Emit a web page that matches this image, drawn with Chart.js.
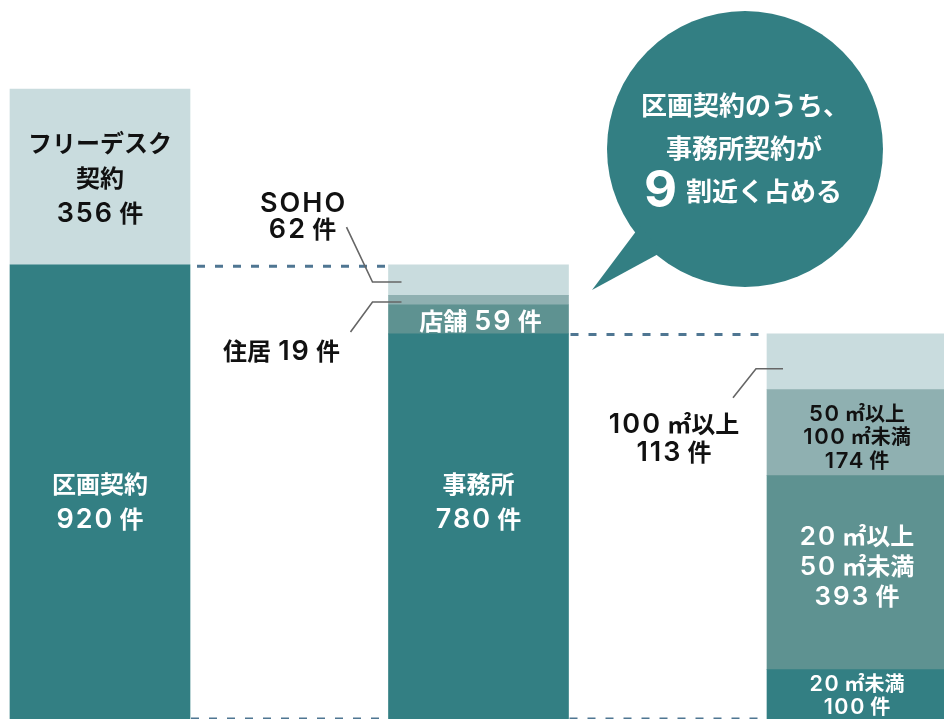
<!DOCTYPE html>
<html>
<head>
<meta charset="utf-8">
<script src="https://cdn.jsdelivr.net/npm/chart.js@4/dist/chart.umd.min.js"></script>
<style>
  html, body { margin: 0; padding: 0; background: #ffffff; overflow: hidden; }
  #wrap { width: 944px; height: 719px; position: relative; }
  canvas { display: block; }
</style>
</head>
<body>
<div id="wrap"><canvas id="chart" width="944" height="719"></canvas></div>
<script>
// Breakdown of contracts: each bar splits the dark block of the bar to its left.
const categories = ['契約全体', '区画契約', '事務所'];

// Stack levels, bottom to top (件)
const tier1 = [920, 780, 100];
const tier2 = [356, 59, 393];
const tier3 = [null, 19, 174];
const tier4 = [null, 62, 113];

// Segment names, same order as the values above
const tier1Names = ['区画契約', '事務所', '20 ㎡未満'];
const tier2Names = ['フリーデスク\n契約', '店舗', '20 ㎡以上\n50 ㎡未満'];
const tier3Names = [null, '住居', '50 ㎡以上\n100 ㎡未満'];
const tier4Names = [null, 'SOHO', '100 ㎡以上'];

const calloutLines = ['区画契約のうち、', '事務所契約が', '9', '割近く占める'];

const TEAL = '#337f83';
const LIGHT = '#c9dcde';
const MID = '#8fb0b1';
const DEEP = '#5e9291';
const DASH = '#4f7692';
const LEADER = '#666666';
const CJK_FONT = '"Noto Sans CJK JP", sans-serif';
const LATIN_FONT = 'Inter, "DejaVu Sans", sans-serif';

const datasets = [
  { data: tier1, names: tier1Names, backgroundColor: [TEAL, TEAL, TEAL] },
  { data: tier2, names: tier2Names, backgroundColor: [LIGHT, DEEP, DEEP] },
  { data: tier3, names: tier3Names, backgroundColor: [MID, MID, MID] },
  { data: tier4, names: tier4Names, backgroundColor: [LIGHT, LIGHT, LIGHT] }
].map(d => Object.assign(d, { barThickness: 180, borderWidth: 0, clip: false }));

// Split a label into Latin words, spaces and Japanese runs, each with its own font
function textRuns(text, cjk, latin) {
  return (text.match(/[\x21-\x7E]+| +|[^\x00-\x7F]+/g) || []).map(t => {
    if (/^ +$/.test(t)) return { t, space: true, w: cjk * 0.3 };
    const isLatin = /^[\x21-\x7E]+$/.test(t);
    const ls = isLatin ? latin * 0.075 : 0;
    return {
      t,
      font: isLatin ? `600 ${latin}px ${LATIN_FONT}` : `bold ${cjk}px ${CJK_FONT}`,
      spacing: `${ls.toFixed(2)}px`,
      trim: ls
    };
  });
}

function drawRich(ctx, text, xCenter, yMid, cjk, latin, color) {
  const runs = textRuns(text, cjk, latin);
  ctx.save();
  ctx.fillStyle = color;
  ctx.textAlign = 'left';
  ctx.textBaseline = 'alphabetic';
  let total = 0;
  runs.forEach(r => {
    if (!r.space) {
      ctx.font = r.font;
      ctx.letterSpacing = r.spacing;
      r.w = ctx.measureText(r.t).width - r.trim;
    }
    total += r.w;
  });
  let x = xCenter - total / 2;
  const base = yMid + cjk * 0.37;
  runs.forEach(r => {
    if (!r.space) {
      ctx.font = r.font;
      ctx.letterSpacing = r.spacing;
      ctx.fillText(r.t, x, base);
    }
    x += r.w;
  });
  ctx.restore();
}

function drawLines(ctx, lines, x, yMid, cjk, latin, lh, color) {
  const top = yMid - (lines.length - 1) * lh / 2;
  lines.forEach((t, i) => drawRich(ctx, t, x, top + i * lh, cjk, latin, color));
}

function leader(ctx, pts) {
  ctx.save();
  ctx.strokeStyle = LEADER;
  ctx.lineWidth = 1.6;
  ctx.beginPath();
  pts.forEach((p, i) => i ? ctx.lineTo(p[0], p[1]) : ctx.moveTo(p[0], p[1]));
  ctx.stroke();
  ctx.restore();
}

function dashed(ctx, x1, x2, y) {
  ctx.save();
  ctx.strokeStyle = DASH;
  ctx.lineWidth = 3;
  ctx.setLineDash([8, 10]);
  ctx.beginPath();
  ctx.moveTo(x1, y);
  ctx.lineTo(x2, y);
  ctx.stroke();
  ctx.restore();
}

function seg(chart, di, i) {
  const el = chart.getDatasetMeta(di).data[i];
  return {
    x: el.x,
    left: el.x - el.width / 2,
    right: el.x + el.width / 2,
    mid: (el.y + el.base) / 2
  };
}

function textOf(di, i) {
  const name = datasets[di].names[i];
  return name.split('\n').concat([`${datasets[di].data[i]} 件`]);
}

const connectorPlugin = {
  id: 'connectors',
  beforeDatasetsDraw(chart) {
    const ctx = chart.ctx;
    const y = chart.scales.y;
    const a = seg(chart, 0, 0), b = seg(chart, 0, 1), c = seg(chart, 0, 2);
    // The dark block of one bar equals the full height of the next bar
    dashed(ctx, a.right + 7, b.left - 2, y.getPixelForValue(tier1[0]) + 1.5);
    dashed(ctx, b.right + 2, c.left - 2, y.getPixelForValue(tier1[1]) + 0.5);
    dashed(ctx, a.right + 1, b.left - 2, y.getPixelForValue(0));
    dashed(ctx, b.right + 1, c.left - 2, y.getPixelForValue(0));
  }
};

const labelPlugin = {
  id: 'segmentLabels',
  afterDatasetsDraw(chart) {
    const ctx = chart.ctx;
    const y = chart.scales.y;

    // Bar 1
    const s00 = seg(chart, 0, 0);
    drawLines(ctx, textOf(0, 0), s00.x, y.getPixelForValue(440), 24, 27, 35, '#ffffff');
    const s10 = seg(chart, 1, 0);
    drawLines(ctx, textOf(1, 0), s10.x, s10.mid + 1, 24, 27, 35, '#111111');

    // Bar 2
    const s01 = seg(chart, 0, 1);
    drawLines(ctx, textOf(0, 1), s01.x, y.getPixelForValue(440), 24, 27, 35, '#ffffff');
    const s11 = seg(chart, 1, 1);
    drawLines(ctx, [`${tier2Names[1]} ${tier2[1]} 件`], s11.x + 2, s11.mid + 2, 24, 27, 0, '#ffffff');
    const s21 = seg(chart, 2, 1);
    leader(ctx, [[s21.left - 38, s21.mid + 32], [s21.left - 16, s21.mid + 2], [s21.left + 13, s21.mid + 2]]);
    drawLines(ctx, [`${tier3Names[1]} ${tier3[1]} 件`], s21.left - 107, s21.mid + 51, 24, 27, 0, '#111111');
    const s31 = seg(chart, 3, 1);
    leader(ctx, [[s31.left - 42, s31.mid - 53], [s31.left - 16, s31.mid + 2], [s31.left + 13, s31.mid + 2]]);
    drawLines(ctx, textOf(3, 1), s31.left - 86, s31.mid - 64, 24, 27, 26, '#111111');

    // Bar 3
    const s02 = seg(chart, 0, 2);
    drawLines(ctx, textOf(0, 2), s02.x, s02.mid + 1, 20, 21.5, 23, '#ffffff');
    const s12 = seg(chart, 1, 2);
    drawLines(ctx, textOf(1, 2), s12.x, s12.mid - 6, 24, 26, 30, '#ffffff');
    const s22 = seg(chart, 2, 2);
    drawLines(ctx, textOf(2, 2), s22.x, s22.mid + 4, 20, 22, 23.5, '#111111');
    const s32 = seg(chart, 3, 2);
    leader(ctx, [[s32.left - 34, s32.mid + 36], [s32.left - 11, s32.mid + 7], [s32.left + 16, s32.mid + 7]]);
    drawLines(ctx, textOf(3, 2), s32.left - 93, s32.mid + 76, 24, 27, 28, '#111111');
  },
  afterDraw(chart) {
    // Speech bubble
    const ctx = chart.ctx;
    const cx = 745, cy = 149, r = 138;
    ctx.save();
    ctx.fillStyle = TEAL;
    ctx.beginPath();
    ctx.arc(cx, cy, r, 0, Math.PI * 2);
    ctx.fill();
    ctx.beginPath();
    ctx.moveTo(640, 226);
    ctx.lineTo(592, 290);
    ctx.lineTo(662, 252);
    ctx.closePath();
    ctx.fill();
    ctx.restore();

    drawRich(ctx, calloutLines[0], 745, 105, 26, 26, '#ffffff');
    drawRich(ctx, calloutLines[1], 744, 148, 26, 26, '#ffffff');
    ctx.save();
    ctx.fillStyle = '#ffffff';
    ctx.textBaseline = 'alphabetic';
    ctx.textAlign = 'left';
    ctx.font = `bold 51px ${LATIN_FONT}`;
    ctx.fillText(calloutLines[2], 644, 207);
    ctx.font = `bold 26px ${CJK_FONT}`;
    ctx.fillText(calloutLines[3], 686, 201);
    ctx.restore();
  }
};

new Chart(document.getElementById('chart'), {
  type: 'bar',
  data: { labels: categories, datasets },
  options: {
    responsive: false,
    animation: false,
    layout: { padding: { left: 100, right: 87, top: 89, bottom: 0 } },
    plugins: { legend: { display: false }, tooltip: { enabled: false } },
    scales: {
      x: { stacked: true, offset: false, display: false },
      y: { stacked: true, min: 0, max: 1276, display: false }
    }
  },
  plugins: [connectorPlugin, labelPlugin]
});
</script>
</body>
</html>
